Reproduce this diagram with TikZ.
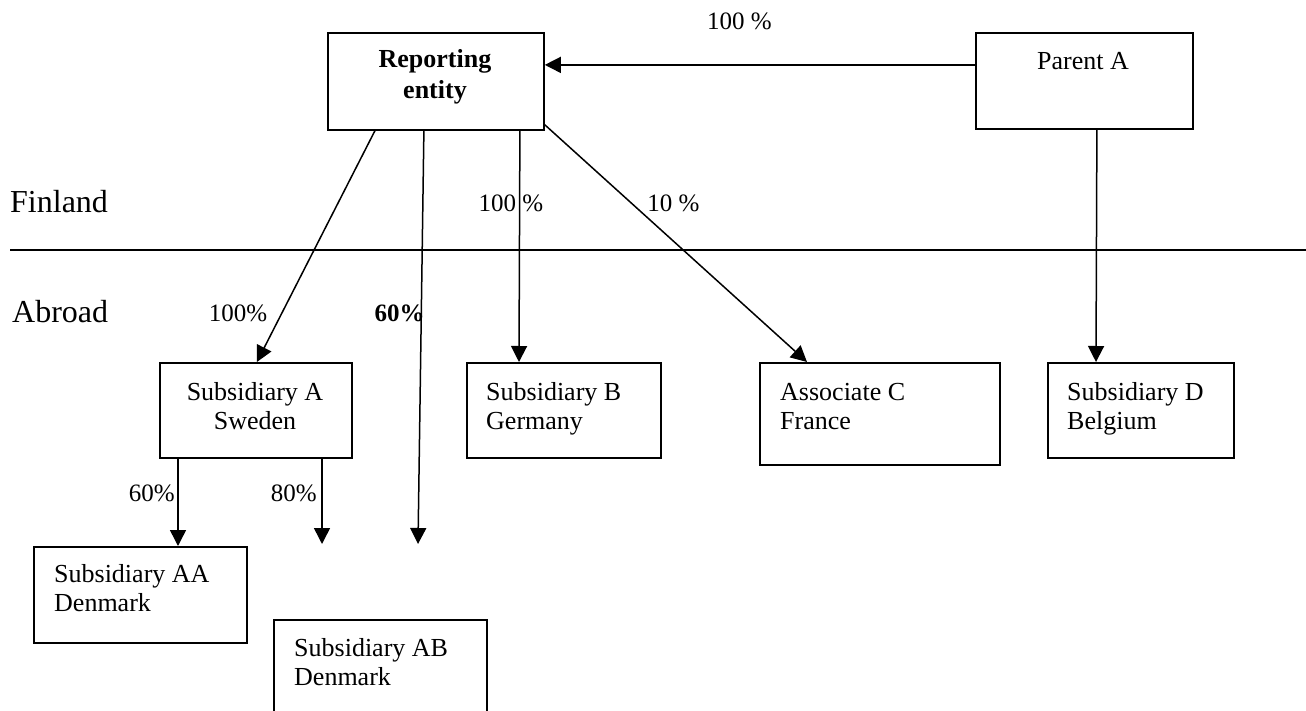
\documentclass[tikz,border=0pt]{standalone}
\usepackage{fontspec}
\setmainfont{Liberation Serif}
\usetikzlibrary{arrows.meta}
\begin{document}
\begin{tikzpicture}[x=1pt,y=-1pt,
  box/.style={draw, line width=1.8pt, rectangle, inner sep=0pt, anchor=north west},
  txt/.style={font=\fontsize{26}{29}\selectfont, inner sep=0pt},
  pct/.style={font=\fontsize{25}{28}\selectfont, inner sep=0pt},
  big/.style={font=\fontsize{32}{38}\selectfont, inner sep=0pt},
  conn/.style={line width=1.5pt, -{Triangle[length=16pt,width=16pt]}}]
\clip (0,0) rectangle (1306,711);
\useasboundingbox (0,0) rectangle (1306,711);
% boxes
\node[box, minimum width=216pt, minimum height=97pt] (rep) at (327,32) {};
\node[box, minimum width=217pt, minimum height=96pt] (parA) at (975,32) {};
\node[box, minimum width=192pt, minimum height=95pt] (subA) at (159,362) {};
\node[box, minimum width=194pt, minimum height=95pt] (subB) at (466,362) {};
\node[box, minimum width=240pt, minimum height=102pt] (assoc) at (759,362) {};
\node[box, minimum width=186pt, minimum height=95pt] (subD) at (1047,362) {};
\node[box, minimum width=213pt, minimum height=96pt] (subAA) at (33,546) {};
\node[box, minimum width=213pt, minimum height=110pt] (subAB) at (273,619) {};
% box texts
\node[txt, font=\fontsize{26}{31}\selectfont\bfseries, align=center] (repT) at (435,77) {Reporting\\entity};
\node[txt] (parAT) at (1083,61) {Parent A};
\node[txt, align=center] (subAT) at (255,406.5) {Subsidiary A\\Sweden};
\node[txt, align=left, anchor=west] (subBT) at (486,409) {Subsidiary B\\Germany};
\node[txt, align=left, anchor=west] (assocT) at (780,407) {Associate C\\France};
\node[txt, align=left, anchor=west] (subDT) at (1067,409) {Subsidiary D\\Belgium};
\node[txt, align=left, anchor=west] (subAAT) at (54,588) {Subsidiary AA\\Denmark};
\node[txt, align=left, anchor=west] (subABT) at (294,662) {Subsidiary AB\\Denmark};
% region labels and divider
\node[big, anchor=west] (fin) at (10,202) {Finland};
\node[big, anchor=west] (abr) at (12,312) {Abroad};
\coordinate (divL) at (10,250);
\coordinate (divR) at (1306,250);
\draw[line width=1.3pt] (divL) -- (divR);
% free arrow ends
\coordinate (p60) at (418,544);
\coordinate (p80) at (322,544);
% connectors
\draw[conn] ([yshift=16pt]parA.west) -- ([yshift=16.5pt]rep.east);
\draw[conn] ([xshift=-61pt]rep.south) -- ([xshift=1pt]subA.north);
\draw[conn] ([xshift=-12pt]rep.south) -- (p60);
\draw[conn] ([xshift=84pt]rep.south) -- ([xshift=53pt]subB.north west);
\draw[conn] ([yshift=6pt]rep.south east) -- ([xshift=48pt]assoc.north west);
\draw[conn] ([xshift=12.5pt]parA.south) -- ([xshift=49pt]subD.north west);
\draw[conn] ([xshift=19pt]subA.south west) -- ([xshift=145pt]subAA.north west);
\draw[conn] ([xshift=163pt]subA.south west) -- (p80);
% percentage labels
\node[pct] (l1) at (739.5,21) {100 \%};
\node[pct] (l2) at (511,203) {100 \%};
\node[pct] (l3) at (673.5,203) {10 \%};
\node[pct] (l4) at (238,313) {100\%};
\node[pct, font=\fontsize{25}{28}\selectfont\bfseries] (l5) at (399.5,313) {60\%};
\node[pct, anchor=east] (l6) at (175,493) {60\%};
\node[pct, anchor=east] (l7) at (317,493) {80\%};
\end{tikzpicture}
\end{document}
